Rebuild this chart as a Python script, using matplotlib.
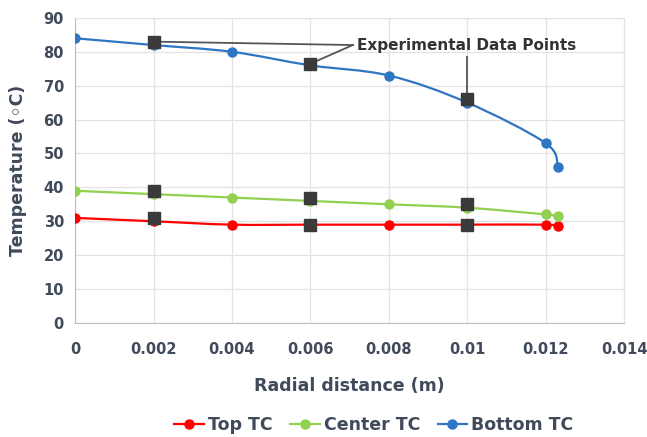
import numpy as np
import matplotlib
matplotlib.use("Agg")
import matplotlib.pyplot as plt
from matplotlib.path import Path
from matplotlib.patches import PathPatch

radius = [0, 0.002, 0.004, 0.006, 0.008, 0.010, 0.012, 0.0123]
top_tc = [31, 30, 29, 29, 29, 29, 29, 28.5]
center_tc = [39, 38, 37, 36, 35, 34, 32, 31.5]
bottom_tc = [84, 82, 80, 76, 73, 65, 53, 46]

exp_x = [0.002, 0.006, 0.010]
exp_top = [31, 29, 29]
exp_center = [39, 37, 35]
exp_bottom = [83, 76.5, 66]

xticks = [0, 0.002, 0.004, 0.006, 0.008, 0.01, 0.012, 0.014]
xticklabels = ["0", "0.002", "0.004", "0.006", "0.008", "0.01", "0.012", "0.014"]
yticks = [0, 10, 20, 30, 40, 50, 60, 70, 80, 90]

txt = "#404A5A"

fig = plt.figure(figsize=(6.47, 4.37), dpi=100)
ax = fig.add_axes([0.116, 0.261, 0.849, 0.698])
ax.set_xlim(0, 0.014)
ax.set_ylim(0, 90)


def smooth_path(ax, xs, ys, color):
    # Catmull-Rom style bezier smoothing drawn in display coordinates
    pts = ax.transData.transform(np.column_stack([xs, ys]))
    verts = [pts[0]]
    codes = [Path.MOVETO]
    n = len(pts)
    for i in range(n - 1):
        p0 = pts[i - 1] if i > 0 else pts[i]
        p1 = pts[i]
        p2 = pts[i + 1]
        p3 = pts[i + 2] if i + 2 < n else pts[i + 1]
        c1 = p1 + (p2 - p0) / 6.0
        c2 = p2 - (p3 - p1) / 6.0
        verts += [c1, c2, p2]
        codes += [Path.CURVE4] * 3
    path = Path(verts, codes)
    patch = PathPatch(path, facecolor="none", edgecolor=color, lw=1.6,
                      transform=None, zorder=3)
    ax.add_artist(patch)


series = [(top_tc, "#FF0000", "Top TC"),
          (center_tc, "#92D050", "Center TC"),
          (bottom_tc, "#2E75C3", "Bottom TC")]

fig.canvas.draw()
handles = []
for ys, col, lab in series:
    smooth_path(ax, radius, ys, col)
    ax.plot(radius, ys, linestyle="none", marker="o", ms=6.5, color=col, zorder=4)
    h, = ax.plot([], [], color=col, marker="o", ms=6.5, lw=1.6, label=lab)
    handles.append(h)

sq = dict(linestyle="none", marker="s", ms=9, color="#3A3A3A", zorder=5)
ax.plot(exp_x, exp_top, **sq)
ax.plot(exp_x, exp_center, **sq)
ax.plot(exp_x, exp_bottom, **sq)

# annotation
ann_x, ann_y = 0.00718, 82.0
ax.text(ann_x, ann_y, "Experimental Data Points", fontsize=11, fontweight="bold",
        color="#333333", va="center", ha="left", zorder=6)
lc = "#555555"
ax.plot([ann_x - 0.0001, exp_x[0]], [82.0, exp_bottom[0]], color=lc, lw=1.3, zorder=4)
ax.plot([ann_x - 0.0001, exp_x[1]], [82.0, exp_bottom[1]], color=lc, lw=1.3, zorder=4)
ax.plot([exp_x[2], exp_x[2]], [78.5, exp_bottom[2]], color=lc, lw=1.3, zorder=4)

ax.set_xticks(xticks)
ax.set_xticklabels(xticklabels)
ax.set_yticks(yticks)
ax.grid(True, color="#E3E3E3", lw=0.9)
ax.set_axisbelow(True)
for s in ["top", "right"]:
    ax.spines[s].set_color("#E3E3E3")
for s in ["left", "bottom"]:
    ax.spines[s].set_color("#BFBFBF")
ax.tick_params(length=0, labelsize=10.5, labelcolor=txt)
for lab in ax.get_xticklabels() + ax.get_yticklabels():
    lab.set_fontweight("bold")
ax.tick_params(axis="y", pad=8)
ax.tick_params(axis="x", pad=14)

ax.set_xlabel("Radial distance (m)", fontsize=12.5, fontweight="bold", color=txt, labelpad=14)
ax.set_ylabel("Temperature (\u25e6C)", fontsize=12.5, fontweight="bold", color=txt, labelpad=12)

fig.legend(handles=handles, loc="center", bbox_to_anchor=(0.578, 0.028), ncol=3,
           frameon=False, handlelength=1.7, handletextpad=0.25,
           columnspacing=1.0, prop={"weight": "bold", "size": 12.5})
for t in fig.legends[0].get_texts():
    t.set_color(txt)

fig.savefig("out.png", dpi=100)
